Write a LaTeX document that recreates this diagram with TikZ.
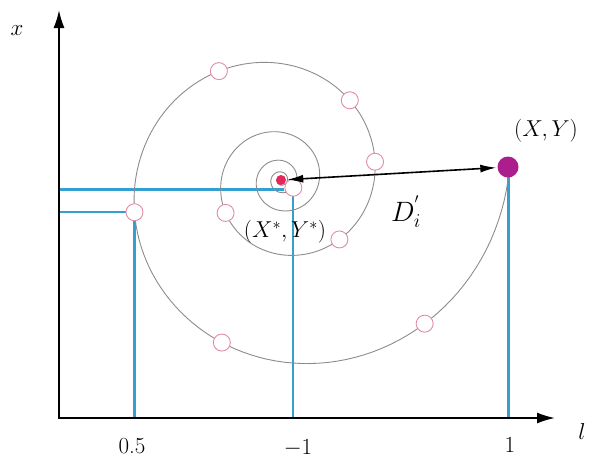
\RequirePackage{fix-cm}
\documentclass[tikz,border=0pt]{standalone}
\usepackage{fontspec}
\usetikzlibrary{arrows.meta}
\definecolor{bl}{RGB}{52,160,210}
\definecolor{ringc}{RGB}{225,140,165}
\definecolor{magdot}{RGB}{172,30,140}
\definecolor{reddot}{RGB}{228,40,90}
\definecolor{spg}{RGB}{140,140,140}
\begin{document}
\begin{tikzpicture}[x=1pt,y=-1pt,
  ring/.style={circle,draw=ringc,fill=white,line width=0.9pt,minimum size=17pt,inner sep=0pt},
  axisline/.style={line width=1.8pt,line join=miter,{Latex[length=18pt,width=11pt]}-{Latex[length=18pt,width=11pt]}},
  thickb/.style={draw=bl,line width=3pt},
  thinb/.style={draw=bl,line width=1.8pt},
  lab/.style={font=\fontsize{23}{27}\selectfont,inner sep=0pt},
  spiralc/.style={draw=spg,line width=0.9pt},
  dbl/.style={line width=1.6pt,{Latex[length=16pt,width=8pt]}-{Latex[length=16pt,width=8pt]},shorten <=1pt,shorten >=1pt}]
\useasboundingbox (0,0) rectangle (596,461);
\coordinate (O) at (59,418);
\coordinate (ytop) at (59,10);
\coordinate (xend) at (555,418);
\coordinate (hb) at (284,189);
% points on the spiral
\foreach \p [count=\i] in {45,110,167.6,240.3,310.8,349,405.5,509.3,1112}
  \coordinate (p\i) at ({281+227*exp(-0.0024794*\p)*cos(\p)},{180+227*exp(-0.0024794*\p)*sin(\p)});
% blue guide lines
\draw[thickb] (hb) -- (hb -| O);
\draw[thinb] (p3) -- (p3 -| O);
\draw[thickb] (p3) -- (p3 |- O);
\draw[thinb] (p9) -- (p9 |- O);
\coordinate (xyc) at (508,167);
\draw[thickb] (xyc) -- (xyc |- O);
% axes
\draw[axisline] (ytop) -- (O) -- (xend);
% spiral
\draw[spiralc] plot[domain=-3:1620,samples=600,variable=\t]
  ({281+227*exp(-0.0024794*\t)*cos(\t)},{180+227*exp(-0.0024794*\t)*sin(\t)});
% rings
\foreach \i in {1,...,9} \node[ring] (c\i) at (p\i) {};
% dots
\node[circle,fill=reddot,minimum size=10pt,inner sep=0pt] (ctr) at (281,180) {};
\node[circle,fill=magdot,minimum size=21pt,inner sep=0pt] (xy) at (xyc) {};
\draw[dbl] (ctr) -- (xy);
% labels
\node[lab] (lx) at (17,31) {$x$};
\node[lab] (ll) at (582,432) {$l$};
\node[lab] (t05) at (132,446) {0.5};
\node[lab] (tm1) at (298,448) {$-1$};
\node[lab] (t1) at (510,445) {1};
\node[lab] (lxy) at (546,131) {$(X,Y)$};
\node[lab] (lxs) at (285,232) {$(X^{*},Y^{*})$};
\node[font=\fontsize{28}{32}\selectfont,inner sep=0pt] (ld) at (406,212) {$D_i^{'}$};
\end{tikzpicture}
\end{document}
